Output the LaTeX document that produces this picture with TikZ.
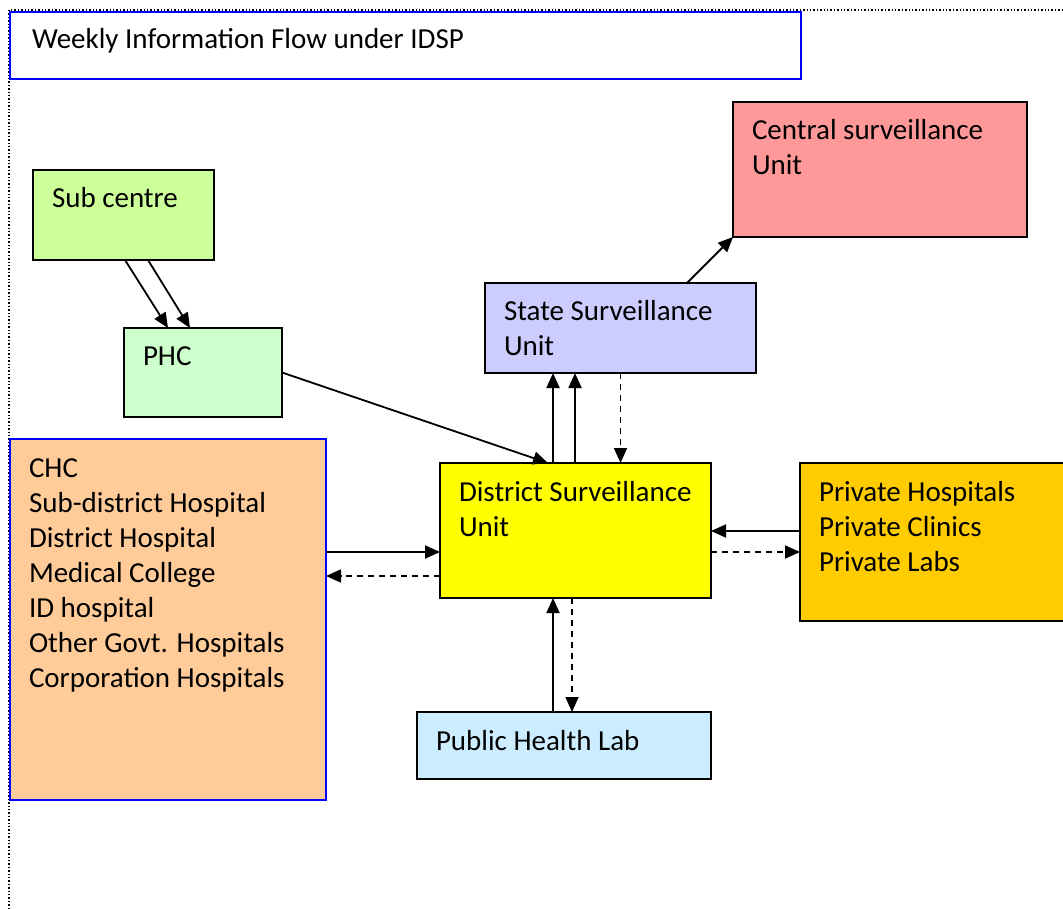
\documentclass[tikz,border=0pt]{standalone}
\usepackage{fontspec}
\setmainfont{Carlito}
\usetikzlibrary{arrows.meta, positioning, calc}

\definecolor{subgreen}{HTML}{CCFF99}
\definecolor{phcgreen}{HTML}{CCFFCC}
\definecolor{csured}{HTML}{FF9999}
\definecolor{ssublue}{HTML}{CCCCFF}
\definecolor{chcorange}{HTML}{FFCC99}
\definecolor{dsuyellow}{HTML}{FFFF00}
\definecolor{pvtgold}{HTML}{FFCC00}
\definecolor{phlblue}{HTML}{CCECFF}
\definecolor{frameblue}{HTML}{0000FF}

\tikzset{
  box/.style={rectangle, draw, line width=2pt, inner sep=0pt, outer sep=0pt},
  lbl/.style={font=\fontsize{29}{35}\selectfont, inner sep=0pt, outer sep=0pt, align=left},
  flow/.style={-{Triangle[length=15pt,width=13pt]}, line width=1.8pt},
  reply/.style={flow, dash pattern=on 6pt off 5pt}
}

\begin{document}
\begin{tikzpicture}[x=1pt, y=-1pt]
\useasboundingbox (0,0) rectangle (1063,909);
% page frame
\draw [dotted, line width=1.4pt] (9,909) -- (9,10) -- (1063,10);

% title
\node [box, draw=frameblue, minimum width=791pt, minimum height=67pt] (title) at (405.5,45.5) {};
\node [lbl, below right=12pt and 22pt of title.north west] (titletxt) {\strut Weekly Information Flow under IDSP};

% boxes
\node [box, fill=subgreen, minimum width=181pt, minimum height=90pt] (sub) at (123.5,215) {};
\node [lbl, below right=13.5pt and 19pt of sub.north west] (subtxt) {\strut Sub centre};

\node [box, fill=phcgreen, minimum width=158pt, minimum height=89pt] (phc) at (203,372.5) {};
\node [lbl, below right=13.5pt and 19pt of phc.north west] (phctxt) {\strut PHC};

\node [box, fill=csured, minimum width=294pt, minimum height=135pt] (csu) at (880,169.5) {};
\node [lbl, below right=13.5pt and 19pt of csu.north west] (csutxt) {\strut Central surveillance\\Unit};

\node [box, fill=ssublue, minimum width=271pt, minimum height=90pt] (ssu) at (620.5,328) {};
\node [lbl, below right=13.5pt and 19pt of ssu.north west] (ssutxt) {\strut State Surveillance\\Unit};

\node [box, draw=frameblue, fill=chcorange, minimum width=316pt, minimum height=361pt] (chc) at (168,619.5) {};
\node [lbl, below right=13.5pt and 19pt of chc.north west] (chctxt) {\strut CHC\\Sub-district Hospital\\District Hospital\\Medical College\\ID hospital\\Other Govt. Hospitals\\Corporation Hospitals};

\node [box, fill=dsuyellow, minimum width=271pt, minimum height=135pt] (dsu) at (575.5,530.5) {};
\node [lbl, below right=13.5pt and 19pt of dsu.north west] (dsutxt) {\strut District Surveillance\\Unit};

\node [box, fill=pvtgold, minimum width=266pt, minimum height=158pt] (pvt) at (933,542) {};
\node [lbl, below right=13.5pt and 19pt of pvt.north west] (pvttxt) {\strut Private Hospitals\\Private Clinics\\Private Labs};

\node [box, fill=phlblue, minimum width=294pt, minimum height=67pt] (phl) at (564,745.5) {};
\node [lbl, below right=13.5pt and 19pt of phl.north west] (phltxt) {\strut Public Health Lab};

% connectors
\draw [flow] ([xshift=1.5pt]sub.south) -- ([xshift=-35pt]phc.north);
\draw [flow] ([xshift=24.5pt]sub.south) -- ([xshift=-13pt]phc.north);
\draw [flow] (phc.east) -- ([xshift=-27.5pt]dsu.north);
\draw [flow] ([xshift=-22.5pt]dsu.north) -- ([xshift=-22.5pt]dsu.north |- ssu.south);
\draw [flow] ([xshift=-0.5pt]dsu.north) -- ([xshift=-0.5pt]dsu.north |- ssu.south);
\draw [reply] (ssu.south) -- (ssu.south |- dsu.north);
\draw [flow] ([xshift=66.5pt]ssu.north) -- (csu.south west);
\draw [flow] ([yshift=67.5pt]chc.east) -- ([yshift=67.5pt]chc.east -| dsu.west);
\draw [reply] ([yshift=-45.5pt]dsu.west) -- ([yshift=-45.5pt]dsu.west -| chc.east);
\draw [flow] ([yshift=11pt]pvt.west) -- ([yshift=11pt]pvt.west -| dsu.east);
\draw [reply] ([yshift=-21.5pt]dsu.east) -- ([yshift=-21.5pt]dsu.east -| pvt.west);
\draw [flow] ([xshift=-11pt]phl.north) -- ([xshift=-11pt]phl.north |- dsu.south);
\draw [reply] ([xshift=-3.5pt]dsu.south) -- ([xshift=-3.5pt]dsu.south |- phl.north);
\end{tikzpicture}
\end{document}
